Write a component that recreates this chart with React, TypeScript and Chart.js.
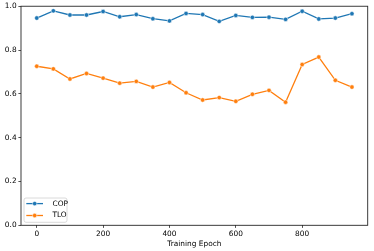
import React, { useEffect, useRef } from "react";
import { Chart, registerables } from "chart.js";

Chart.register(...registerables);

const epochs = [0, 50, 100, 150, 200, 250, 300, 350, 400, 450, 500, 550, 600, 650, 700, 750, 800, 850, 900, 950];
const copValues = [0.946, 0.979, 0.960, 0.960, 0.976, 0.952, 0.962, 0.943, 0.933, 0.967, 0.962, 0.931, 0.958, 0.949, 0.950, 0.940, 0.977, 0.942, 0.946, 0.966];
const tloValues = [0.726, 0.714, 0.668, 0.693, 0.672, 0.649, 0.657, 0.631, 0.652, 0.605, 0.572, 0.583, 0.566, 0.598, 0.616, 0.562, 0.734, 0.768, 0.662, 0.631];
const seriesNames = ["COP", "TLO"];
const seriesColors = ["#1f77b4", "#ff7f0e"];
const xTicks = [0, 200, 400, 600, 800];
const yTicks = [0.0, 0.2, 0.4, 0.6, 0.8, 1.0];
const xTitle = "Training Epoch";

const FONT = "'DejaVu Sans', sans-serif";
const FS = 7.4;

const framePlugin = {
  id: "frameAndLegend",
  afterDraw(chart: any) {
    const { ctx, chartArea: ca } = chart;
    ctx.save();
    ctx.strokeStyle = "#262626";
    ctx.lineWidth = 0.9;
    ctx.strokeRect(ca.left, ca.top, ca.right - ca.left, ca.bottom - ca.top);

    // legend box (lower left inside axes)
    const bx = ca.left + 3;
    const bw = 43;
    const bh = 24.3;
    const by = ca.bottom - 3 - bh;
    const r = 2;
    ctx.beginPath();
    ctx.moveTo(bx + r, by);
    ctx.lineTo(bx + bw - r, by);
    ctx.arcTo(bx + bw, by, bx + bw, by + r, r);
    ctx.lineTo(bx + bw, by + bh - r);
    ctx.arcTo(bx + bw, by + bh, bx + bw - r, by + bh, r);
    ctx.lineTo(bx + r, by + bh);
    ctx.arcTo(bx, by + bh, bx, by + bh - r, r);
    ctx.lineTo(bx, by + r);
    ctx.arcTo(bx, by, bx + r, by, r);
    ctx.closePath();
    ctx.fillStyle = "rgba(255,255,255,0.8)";
    ctx.fill();
    ctx.strokeStyle = "#d0d0d0";
    ctx.lineWidth = 0.8;
    ctx.stroke();

    chart.data.datasets.forEach((ds: any, i: number) => {
      const y = by + 5.6 + i * 11.9;
      const x0 = bx + 2.3;
      const x1 = bx + 19;
      ctx.strokeStyle = ds.borderColor;
      ctx.lineWidth = 1.3;
      ctx.beginPath();
      ctx.moveTo(x0, y);
      ctx.lineTo(x1, y);
      ctx.stroke();
      ctx.beginPath();
      ctx.arc((x0 + x1) / 2, y, 2.2, 0, Math.PI * 2);
      ctx.fillStyle = ds.borderColor;
      ctx.fill();
      ctx.strokeStyle = "#ffffff";
      ctx.lineWidth = 0.5;
      ctx.stroke();
      ctx.fillStyle = "#000";
      ctx.font = `${FS}px ${FONT}`;
      ctx.textAlign = "left";
      ctx.textBaseline = "middle";
      ctx.fillText(ds.label, bx + 28.5, y);
    });
    ctx.restore();
  },
};

export default function App() {
  const ref = useRef<HTMLCanvasElement | null>(null);

  useEffect(() => {
    document.body.style.margin = "0";
    if (!ref.current) return;
    const valueSets = [copValues, tloValues];
    const chart = new Chart(ref.current, {
      type: "line",
      data: {
        datasets: valueSets.map((vals, i) => ({
          label: seriesNames[i],
          data: epochs.map((e, j) => ({ x: e, y: vals[j] })),
          borderColor: seriesColors[i],
          backgroundColor: seriesColors[i],
          borderWidth: 1.3,
          pointRadius: 2.2,
          pointBackgroundColor: seriesColors[i],
          pointBorderColor: "#ffffff",
          pointBorderWidth: 0.5,
          tension: 0,
          fill: false,
        })),
      },
      options: {
        animation: false,
        responsive: false,
        devicePixelRatio: 1,
        layout: { padding: { left: 0, top: 2.3, right: 6.3, bottom: 0 } },
        plugins: { legend: { display: false }, tooltip: { enabled: false } },
        scales: {
          x: {
            type: "linear",
            min: -47.5,
            max: 997.5,
            afterBuildTicks: (s: any) => {
              s.ticks = xTicks.map((v) => ({ value: v }));
            },
            afterFit: (s: any) => {
              s.height = 25.7;
            },
            grid: { display: true, drawOnChartArea: false, drawTicks: true, tickLength: 2.6, color: "#262626", lineWidth: 0.8 },
            border: { display: false },
            ticks: { color: "#000", font: { family: FONT, size: FS }, padding: 2, maxRotation: 0, autoSkip: false },
            title: { display: true, text: xTitle, color: "#000", font: { family: FONT, size: FS }, padding: { top: 0, bottom: 2.3 } },
          },
          y: {
            type: "linear",
            min: 0,
            max: 1,
            afterBuildTicks: (s: any) => {
              s.ticks = yTicks.map((v) => ({ value: v }));
            },
            afterFit: (s: any) => {
              s.width = 21;
            },
            grid: { display: true, drawOnChartArea: false, drawTicks: true, tickLength: 2.6, color: "#262626", lineWidth: 0.8 },
            border: { display: false },
            ticks: {
              color: "#000",
              font: { family: FONT, size: FS },
              padding: 1.8,
              autoSkip: false,
              callback: (v: any) => Number(v).toFixed(1),
            },
          },
        },
      },
      plugins: [framePlugin],
    });
    return () => chart.destroy();
  }, []);

  return <canvas ref={ref} width={374} height={251} style={{ display: "block", width: 374, height: 251 }} />;
}
